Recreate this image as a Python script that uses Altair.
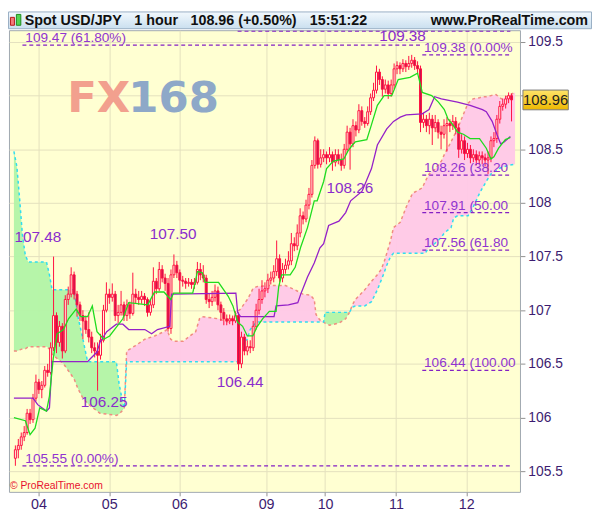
import altair as alt
import pandas as pd

# ---------------- hourly candles (bar index 0..169) ----------------
opens = [105.62, 105.70, 105.74, 105.82, 105.86, 106.04, 105.98, 106.18, 106.33, 106.26,
         106.30, 106.44, 106.42, 106.65, 106.95, 106.70, 106.85, 106.62, 107.10, 107.15,
         107.33, 107.15, 107.05, 106.95, 106.90, 106.82, 106.75, 106.65, 106.62, 106.58,
         106.72, 107.00, 107.15, 107.12, 107.15, 106.95, 106.98, 107.05, 106.95, 107.05,
         106.97, 107.15, 107.12, 107.10, 107.13, 107.10, 106.98, 107.05, 107.27, 107.20,
         107.38, 107.30, 107.25, 106.83, 107.33, 107.42, 107.35, 107.28, 107.27, 107.25,
         107.26, 107.24, 107.26, 107.38, 107.33, 107.30, 107.10, 107.08, 107.12, 107.18,
         107.05, 106.98, 106.92, 106.90, 106.92, 106.90, 106.95, 106.50, 106.75, 106.62,
         106.66, 106.65, 106.85, 107.00, 107.10, 107.18, 107.20, 107.28, 107.30, 107.36,
         107.48, 107.30, 107.38, 107.42, 107.46, 107.62, 107.60, 107.72, 107.88, 107.85,
         107.98, 108.08, 108.35, 108.58, 108.36, 108.42, 108.45, 108.42, 108.45, 108.38,
         108.45, 108.40, 108.35, 108.50, 108.66, 108.55, 108.72, 108.68, 108.86, 108.76,
         108.74, 108.85, 108.98, 109.05, 109.22, 109.15, 109.06, 109.10, 109.02, 109.10,
         109.25, 109.28, 109.25, 109.30, 109.27, 109.30, 109.33, 109.28, 109.25, 108.75,
         108.78, 108.72, 108.78, 108.70, 108.75, 108.66, 108.64, 108.72, 108.74, 108.72,
         108.76, 108.70, 108.50, 108.58, 108.46, 108.50, 108.42, 108.45, 108.40, 108.44,
         108.42, 108.40, 108.42, 108.58, 108.60, 108.78, 108.90, 108.92, 108.97, 109.00]
closes = [105.70, 105.74, 105.82, 105.86, 106.04, 105.98, 106.18, 106.33, 106.26, 106.30,
          106.44, 106.42, 106.65, 106.95, 106.70, 106.85, 106.62, 107.10, 107.15, 107.33,
          107.15, 107.05, 106.95, 106.90, 106.82, 106.75, 106.65, 106.62, 106.58, 106.72,
          107.00, 107.15, 107.12, 107.15, 106.95, 106.98, 107.05, 106.95, 107.05, 106.97,
          107.15, 107.12, 107.10, 107.13, 107.10, 106.98, 107.05, 107.27, 107.20, 107.38,
          107.30, 107.25, 106.83, 107.33, 107.42, 107.35, 107.28, 107.27, 107.25, 107.26,
          107.24, 107.26, 107.38, 107.33, 107.30, 107.10, 107.08, 107.12, 107.18, 107.05,
          106.98, 106.92, 106.90, 106.92, 106.90, 106.95, 106.50, 106.75, 106.62, 106.66,
          106.65, 106.85, 107.00, 107.10, 107.18, 107.20, 107.28, 107.30, 107.36, 107.48,
          107.30, 107.38, 107.42, 107.46, 107.62, 107.60, 107.72, 107.88, 107.85, 107.98,
          108.08, 108.35, 108.58, 108.36, 108.42, 108.45, 108.42, 108.45, 108.38, 108.45,
          108.40, 108.35, 108.50, 108.66, 108.55, 108.72, 108.68, 108.86, 108.76, 108.74,
          108.85, 108.98, 109.05, 109.22, 109.15, 109.06, 109.10, 109.02, 109.10, 109.25,
          109.28, 109.25, 109.30, 109.27, 109.30, 109.33, 109.28, 109.25, 108.75, 108.78,
          108.72, 108.78, 108.70, 108.75, 108.66, 108.64, 108.72, 108.74, 108.72, 108.76,
          108.70, 108.50, 108.58, 108.46, 108.50, 108.42, 108.45, 108.40, 108.44, 108.42,
          108.40, 108.42, 108.58, 108.60, 108.78, 108.90, 108.92, 108.97, 109.00, 108.96]
highs = [105.74, 105.80, 105.86, 105.92, 106.08, 106.08, 106.22, 106.40, 106.36, 106.34,
         106.48, 106.50, 106.70, 107.50, 106.98, 106.90, 106.88, 107.14, 107.22, 107.40,
         107.36, 107.18, 107.08, 107.00, 106.95, 106.98, 106.80, 106.70, 106.70, 106.78,
         107.05, 107.26, 107.20, 107.25, 107.18, 107.05, 107.18, 107.08, 107.10, 107.08,
         107.35, 107.20, 107.18, 107.18, 107.16, 107.12, 107.10, 107.40, 107.30, 107.45,
         107.42, 107.34, 107.30, 107.38, 107.52, 107.46, 107.38, 107.32, 107.30, 107.30,
         107.29, 107.30, 107.45, 107.44, 107.42, 107.33, 107.16, 107.18, 107.24, 107.22,
         107.08, 107.02, 106.96, 106.96, 106.95, 106.99, 106.98, 106.80, 106.78, 106.72,
         106.72, 106.90, 107.06, 107.20, 107.28, 107.26, 107.34, 107.36, 107.42, 107.65,
         107.52, 107.44, 107.48, 107.55, 107.72, 107.68, 107.80, 107.95, 107.92, 108.03,
         108.14, 108.40, 108.62, 108.60, 108.50, 108.50, 108.48, 108.52, 108.48, 108.50,
         108.50, 108.46, 108.55, 108.72, 108.70, 108.78, 108.76, 108.92, 108.90, 108.80,
         108.90, 109.02, 109.12, 109.28, 109.25, 109.18, 109.15, 109.14, 109.15, 109.30,
         109.32, 109.31, 109.34, 109.33, 109.37, 109.38, 109.36, 109.32, 109.28, 108.84,
         108.82, 108.84, 108.82, 108.82, 108.78, 108.72, 108.78, 108.80, 108.78, 108.82,
         108.80, 108.74, 108.64, 108.62, 108.56, 108.54, 108.50, 108.49, 108.48, 108.48,
         108.46, 108.48, 108.62, 108.66, 108.82, 108.95, 108.97, 109.00, 109.03, 109.02]
lows = [105.55, 105.62, 105.70, 105.78, 105.84, 105.94, 105.95, 106.15, 106.22, 106.18,
        106.28, 106.38, 106.40, 106.62, 106.60, 106.66, 106.55, 106.60, 107.05, 107.12,
        107.10, 106.94, 106.90, 106.73, 106.78, 106.70, 106.60, 106.56, 106.25, 106.54,
        106.70, 106.98, 107.06, 107.08, 106.90, 106.88, 106.95, 106.90, 106.90, 106.92,
        106.95, 107.06, 107.05, 107.06, 107.04, 106.94, 106.95, 107.02, 107.15, 107.18,
        107.26, 107.18, 106.80, 106.78, 107.30, 107.30, 107.16, 107.22, 107.20, 107.22,
        107.20, 107.20, 107.24, 107.28, 107.26, 107.06, 107.02, 107.04, 107.08, 107.00,
        106.90, 106.86, 106.86, 106.87, 106.86, 106.88, 106.44, 106.46, 106.58, 106.58,
        106.60, 106.62, 106.82, 106.96, 107.06, 107.12, 107.16, 107.24, 107.26, 107.32,
        107.26, 107.26, 107.34, 107.38, 107.42, 107.55, 107.56, 107.68, 107.80, 107.82,
        107.94, 108.05, 108.32, 108.32, 108.33, 108.38, 108.36, 108.38, 108.30, 108.34,
        108.36, 108.30, 108.32, 108.47, 108.31, 108.52, 108.62, 108.65, 108.72, 108.70,
        108.72, 108.82, 108.95, 109.02, 109.10, 108.99, 109.02, 108.97, 108.99, 109.06,
        109.20, 109.20, 109.22, 109.22, 109.24, 109.26, 109.24, 109.20, 108.66, 108.70,
        108.66, 108.64, 108.54, 108.66, 108.60, 108.50, 108.60, 108.48, 108.66, 108.68,
        108.64, 108.42, 108.46, 108.40, 108.42, 108.37, 108.38, 108.35, 108.36, 108.36,
        108.34, 108.27, 108.38, 108.52, 108.56, 108.74, 108.86, 108.88, 108.93, 108.76]

# ---------------- axes ----------------
day_pos = [8.37, 32.44, 56.35, 85.9, 106.0, 130.16, 154.07]
day_labels = ["04", "05", "06", "09", "10", "11", "12"]
price_ticks = [105.5, 106.0, 106.5, 107.0, 107.5, 108.0, 108.5, 109.0, 109.5]

# ---------------- Ichimoku cloud (Senkou A salmon, Senkou B cyan) ----------------
cloud_x = [0, 1.0, 2.0, 2.9, 3.9, 4.9, 11.1, 12.1, 13.0, 16.9, 20.5, 21.8, 23.5, 25.1, 29.3,
           34.9, 35.8, 37.1, 37.6, 38.4, 41.4, 44.6, 47.9, 51.1, 52.1, 53.4, 54.4, 57.7, 59.9,
           61.9, 63.2, 64.2, 69.7, 73.0, 74.9, 76.2, 77.2, 78.2, 79.5, 80.5, 81.4, 82.7, 87.0,
           92.5, 95.8, 98.4, 101.0, 102.3, 102.9, 104.2, 105.5, 106.0, 107.5, 110.7, 113.0,
           114.3, 115.3, 116.3, 119.5, 121.8, 123.8, 125.1, 126.1, 127.0, 128.3, 129.3, 131.6,
           133.6, 135.8, 139.1, 140.1, 141.4, 143.3, 145.6, 146.6, 148.9, 149.8, 151.1, 152.1,
           154.4, 154.7, 156.4, 158.6, 159.6, 160.9, 162.5, 164.2, 165.1, 166.1, 168.4, 170.7]
senkou_a = [106.62, 106.62, 106.63, 106.64, 106.64, 106.66, 106.66, 106.64, 106.59, 106.50,
            106.36, 106.27, 106.18, 106.13, 106.04, 106.02, 106.03, 106.07, 106.09, 106.62,
            106.67, 106.73, 106.76, 106.80, 106.82, 106.73, 106.71, 106.71, 106.76, 106.80,
            106.92, 106.94, 106.92, 106.89, 106.94, 106.99, 107.01, 107.05, 107.10, 107.15,
            107.20, 107.22, 107.23, 107.23, 107.19, 107.15, 107.14, 107.10, 106.96, 106.91,
            106.89, 106.88, 106.86, 106.88, 106.92, 106.98, 107.05, 107.10, 107.19, 107.27,
            107.33, 107.38, 107.45, 107.53, 107.65, 107.77, 107.82, 107.96, 108.09, 108.14,
            108.20, 108.27, 108.31, 108.39, 108.45, 108.57, 108.62, 108.69, 108.76, 108.91,
            108.93, 108.97, 108.98, 108.99, 108.99, 109.00, 109.01, 108.99, 108.97, 109.00,
            109.03]
senkou_b = [108.48, 108.34, 108.02, 107.70, 107.51, 107.45, 107.45, 107.33, 107.19, 107.19,
            107.19, 106.94, 106.73, 106.52, 106.52, 106.52, 106.32, 106.13, 106.09, 106.52,
            106.52, 106.52, 106.52, 106.52, 106.52, 106.52, 106.52, 106.52, 106.52, 106.52,
            106.52, 106.52, 106.52, 106.52, 106.52, 106.52, 106.64, 106.70, 106.73, 106.82,
            106.85, 106.89, 106.89, 106.89, 106.89, 106.89, 106.89, 106.89, 106.89, 106.89,
            106.89, 106.98, 106.98, 106.98, 106.98, 106.98, 107.03, 107.04, 107.04, 107.08,
            107.19, 107.28, 107.35, 107.42, 107.50, 107.53, 107.53, 107.53, 107.53, 107.53,
            107.53, 107.59, 107.62, 107.68, 107.72, 107.77, 107.86, 107.88, 107.88, 107.88,
            107.88, 107.96, 108.09, 108.14, 108.20, 108.27, 108.30, 108.32, 108.33, 108.35,
            108.36]

# ---------------- Tenkan (green) and Kijun (purple) ----------------
tenkan_x = [0, 3.9, 5.5, 7.2, 8.8, 11.1, 12.1, 13.4, 14.7, 16.9, 18.6, 21.2, 22.8, 25.1, 26.7,
            28.3, 30.6, 32.6, 37.1, 39.1, 45.6, 46.9, 47.9, 51.1, 53.4, 54.4, 60.9, 61.9, 62.5,
            64.2, 65.1, 69.7, 70.7, 73.0, 74.6, 76.2, 77.9, 79.5, 81.4, 82.7, 84.7, 87.0, 89.3,
            90.2, 91.2, 94.1, 95.8, 97.7, 100.0, 102.3, 103.3, 105.5, 106.5, 108.8, 112.4,
            113.7, 115.3, 116.3, 120.2, 121.8, 123.8, 126.1, 128.7, 130.9, 134.9, 137.5, 139.1,
            142.3, 144.6, 146.6, 147.9, 149.5, 151.1, 153.1, 155.4, 158.6, 160.9, 162.5, 163.5,
            165.1, 167.4, 169.1]
tenkan_v = [106.00, 105.97, 105.84, 105.90, 106.09, 106.06, 106.20, 106.55, 106.78, 106.82,
            106.92, 107.01, 106.94, 106.94, 107.04, 106.80, 106.73, 106.76, 106.92, 107.07,
            107.05, 107.12, 107.17, 107.17, 107.10, 107.16, 107.16, 107.28, 107.36, 107.35,
            107.26, 107.26, 107.22, 107.13, 107.04, 106.89, 106.85, 106.76, 106.76, 106.84,
            106.92, 106.99, 106.99, 107.22, 107.33, 107.33, 107.40, 107.59, 107.77, 108.02,
            108.02, 108.20, 108.32, 108.39, 108.41, 108.48, 108.54, 108.57, 108.59, 108.73,
            108.91, 109.00, 109.00, 109.15, 109.17, 109.21, 109.03, 109.00, 108.94, 108.87,
            108.78, 108.73, 108.66, 108.64, 108.60, 108.60, 108.51, 108.41, 108.43, 108.51,
            108.59, 108.61]
kijun_x = [0, 6.5, 8.1, 11.1, 12.1, 13.0, 25.1, 26.1, 28.3, 29.3, 31.6, 34.9, 37.1, 39.1, 44.6,
           46.9, 48.9, 53.1, 53.7, 75.6, 76.2, 77.2, 88.6, 89.3, 93.5, 96.7, 97.7, 99.0, 100.0,
           102.3, 104.2, 105.5, 107.2, 110.7, 113.0, 114.7, 118.6, 121.8, 123.8, 127.0, 129.3,
           131.6, 133.6, 139.1, 141.4, 143.3, 145.6, 151.1, 155.4, 159.6, 160.9, 162.9, 164.5,
           165.8, 167.1, 169.1]
kijun_v = [106.18, 106.18, 106.12, 106.06, 106.09, 106.52, 106.52, 106.55, 106.61, 106.70,
           106.80, 106.87, 106.87, 106.82, 106.82, 106.78, 106.82, 106.85, 107.15, 107.16,
           106.98, 106.94, 106.94, 107.04, 107.05, 107.07, 107.15, 107.24, 107.31, 107.44,
           107.58, 107.62, 107.79, 107.83, 107.91, 108.02, 108.11, 108.32, 108.54, 108.69,
           108.76, 108.80, 108.82, 108.83, 108.87, 108.99, 108.97, 108.94, 108.91, 108.87,
           108.85, 108.76, 108.64, 108.55, 108.57, 108.62]

# ---------------- Fibonacci levels & price markers ----------------
fib_levels = [109.60, 109.47, 109.38, 108.26, 107.91, 107.56, 106.44, 105.55]
fib_texts = ["", "109.47 (61.80%)", "109.38 (0.00%)", "108.26 (38.20%)", "107.91 (50.00%)",
             "107.56 (61.80%)", "106.44 (100.00%)", "105.55 (0.00%)"]
fib_start = [76.2, 2.9, 139.1, 139.1, 139.1, 139.1, 139.1, 2.9]
fib_end = [169.1, 138.8, 169.1, 169.1, 169.1, 169.1, 169.1, 169.1]
fib_text_x = [76.5, 3.9, 139.7, 139.7, 139.7, 139.7, 139.7, 3.9]
fib_side = ["L", "L", "R", "R", "R", "R", "R", "L"]

marker_texts = ["107.48", "107.50", "106.25", "106.44", "108.26", "109.38"]
marker_x = [0.2, 46.3, 22.8, 69.1, 106.5, 124.4]
marker_y = [107.64, 107.66, 106.10, 106.28, 108.09, 109.51]

last_price = 108.96

# ---------------- frames ----------------
candles = pd.DataFrame({"X": [i + 0.5 for i in range(len(closes))],
                        "O": opens, "H": highs, "L": lows, "C": closes})
cloud = pd.DataFrame({"X": cloud_x, "A": senkou_a, "B": senkou_b})
cloud["top"] = cloud[["A", "B"]].max(axis=1)
tenkan = pd.DataFrame({"X": tenkan_x, "v": tenkan_v})
kijun = pd.DataFrame({"X": kijun_x, "v": kijun_v})
fib = pd.DataFrame({"lvl": fib_levels, "txt": fib_texts, "x1": fib_start, "x2": fib_end,
                    "tx": fib_text_x, "side": fib_side})
markers = pd.DataFrame({"X": marker_x, "v": marker_y, "txt": marker_texts})
one = pd.DataFrame({"a": [0]})

FONT = "Liberation Sans"
PURPLE_TXT = "#9034D0"
AXIS_TXT = "#3C1C70"
CANDLE = "#FF1040"

label_expr = " : ".join(f"round(datum.value) == {round(p)} ? '{l}'"
                        for p, l in zip(day_pos, day_labels)) + " : ''"

xscale = alt.Scale(domain=[0, 170.7], nice=False, zero=False)
yscale = alt.Scale(domain=[105.307, 109.61], nice=False, zero=False)

xaxis = alt.Axis(values=day_pos, labelExpr=label_expr, grid=True, gridColor="#E4E1BE",
                 tickSize=4, tickColor="#909090", domain=False, labelFontSize=14.5,
                 labelColor=AXIS_TXT, labelFont=FONT, labelPadding=2, title=None,
                 labelFlush=False)
# the 109 label sits under the last-price tag, as in the original
yaxis = alt.Axis(orient="right", values=price_ticks,
                 labelExpr="abs(datum.value - 109) < 0.01 ? '' : format(datum.value, '.1~f')",
                 grid=True, gridColor="#E4E1BE", tickSize=5, tickColor="#909090",
                 labelPadding=3, labelFontSize=14, labelColor=AXIS_TXT, labelFont=FONT,
                 domain=False, title=None, labelFlush=False)

X = alt.X("X:Q", scale=xscale, axis=xaxis)

pink = alt.Chart(cloud).mark_area(color="#FFC8E8", opacity=0.95).encode(
    x=X, y=alt.Y("B:Q", scale=yscale, axis=yaxis), y2="top:Q")
green = alt.Chart(cloud).mark_area(color="#B2F4A6", opacity=0.95).encode(
    x="X:Q", y="A:Q", y2="top:Q")
line_a = alt.Chart(cloud).mark_line(color="#F08C80", strokeWidth=1.5, strokeDash=[3, 3]).encode(
    x="X:Q", y="A:Q")
line_b = alt.Chart(cloud).mark_line(color="#30DDF0", strokeWidth=1.5, strokeDash=[3, 3]).encode(
    x="X:Q", y="B:Q")

wicks = alt.Chart(candles).mark_rule(color=CANDLE, strokeWidth=1).encode(
    x="X:Q", y="L:Q", y2="H:Q")
bodies = alt.Chart(candles).mark_bar(size=2, stroke=CANDLE, strokeWidth=1).encode(
    x="X:Q", y="O:Q", y2="C:Q",
    fill=alt.condition("datum.C < datum.O", alt.value("#C8144E"), alt.value("#FFFFE8")))

kijun_line = alt.Chart(kijun).mark_line(color="#9420C8", strokeWidth=1.3).encode(x="X:Q", y="v:Q")
tenkan_line = alt.Chart(tenkan).mark_line(color="#1EDC1E", strokeWidth=1.3).encode(x="X:Q", y="v:Q")

fib_rules = alt.Chart(fib).mark_rule(color="#8420C4", strokeWidth=1.2, strokeDash=[4, 3]).encode(
    x="x1:Q", x2="x2:Q", y="lvl:Q")
fib_lbl_left = alt.Chart(fib).transform_filter("datum.side == 'L'").mark_text(
    align="left", baseline="alphabetic", dy=-3, fontSize=13.8, font=FONT,
    color=PURPLE_TXT).encode(x="tx:Q", y="lvl:Q", text="txt:N")
# labels on the right run into the plot edge and are cut there, as in the original
fib_lbl_right = alt.Chart(fib).transform_filter("datum.side == 'R'").mark_text(
    align="left", baseline="alphabetic", dy=-3, fontSize=13.8, font=FONT,
    color=PURPLE_TXT, clip=True, limit=94, ellipsis="\u200b").encode(
    x="tx:Q", y="lvl:Q", text="txt:N")
marker_lbl = alt.Chart(markers).mark_text(align="left", baseline="alphabetic", fontSize=15.5,
                                          font=FONT, color="#8A2CCC").encode(
    x="X:Q", y="v:Q", text="txt:N")

# watermark
wm_fx = alt.Chart(one).mark_text(align="left", baseline="alphabetic", fontSize=44,
                                 font="DejaVu Sans", fontWeight="bold", color="#F2A08E").encode(
    x=alt.value(59), y=alt.value(83), text=alt.value("FX"))
wm_num = alt.Chart(one).mark_text(align="left", baseline="alphabetic", fontSize=44,
                                  font="DejaVu Sans", fontWeight="bold", color="#8EA8C8").encode(
    x=alt.value(121), y=alt.value(83), text=alt.value("168"))
copyright_ = alt.Chart(one).mark_text(align="left", baseline="middle", fontSize=10.5,
                                      font=FONT, color="#E8102E").encode(
    x=alt.value(1), y=alt.value(462), text=alt.value("© ProRealTime.com"))

# price tag
tag_box = alt.Chart(one).mark_rect(
    fill=alt.LinearGradient(gradient="linear", x1=0, x2=0, y1=0, y2=1,
                            stops=[alt.GradientStop(color="#FFE46A", offset=0),
                                   alt.GradientStop(color="#EDB800", offset=1)]),
    stroke="#7A7A7A", strokeWidth=1).encode(
    x=alt.value(521), x2=alt.value(567), y=alt.datum(last_price + 0.092),
    y2=alt.datum(last_price - 0.092))
tag_txt = alt.Chart(one).mark_text(align="center", baseline="middle", fontSize=15, font=FONT,
                                   color="#1E1E1E").encode(
    x=alt.value(544), y=alt.datum(last_price), text=alt.value(f"{last_price:.2f}"))

# title bar
bar = alt.Chart(one).mark_rect(
    fill=alt.LinearGradient(gradient="linear", x1=0, x2=0, y1=0, y2=1,
                            stops=[alt.GradientStop(color="#F2F8FD", offset=0),
                                   alt.GradientStop(color="#CADFEF", offset=1)]),
    stroke="#98AFC4", strokeWidth=1).encode(
    x=alt.value(-0.5), x2=alt.value(590.5), y=alt.value(-18.5), y2=alt.value(-1.5))
icon_r = alt.Chart(one).mark_rect(fill="#F27A7A", stroke="#B81818", strokeWidth=1).encode(
    x=alt.value(1.5), x2=alt.value(5.5), y=alt.value(-13), y2=alt.value(-5))
icon_g = alt.Chart(one).mark_rect(fill="#52D452", stroke="#1E8A1E", strokeWidth=1).encode(
    x=alt.value(7.5), x2=alt.value(12), y=alt.value(-16), y2=alt.value(-5))

def title_text(txt, x, align="left"):
    return alt.Chart(one).mark_text(align=align, baseline="middle", fontSize=14.5, font=FONT,
                                    fontWeight="bold", color="#101010").encode(
        x=alt.value(x), y=alt.value(-9.5), text=alt.value(txt))

titles = [title_text("Spot USD/JPY", 16), title_text("1 hour", 127),
          title_text("108.96 (+0.50%)", 184), title_text("15:51:22", 305),
          title_text("www.ProRealTime.com", 587, "right")]

chart = alt.layer(
    pink, green, line_a, line_b, wm_fx, wm_num, wicks, bodies, kijun_line, tenkan_line,
    fib_rules, fib_lbl_left, fib_lbl_right, marker_lbl, copyright_, tag_box, tag_txt,
    bar, icon_r, icon_g, *titles
).properties(
    width=518, height=468,
    padding={"left": 1, "top": 19, "right": 73, "bottom": 24},
    autosize=alt.AutoSizeParams(type="none"),
    background="#FFFFFF",
).configure_view(fill="#FFFFD2", stroke="#A0A8B0", strokeWidth=1)

chart.save("out.html", embed_options={"renderer": "svg", "actions": False})
